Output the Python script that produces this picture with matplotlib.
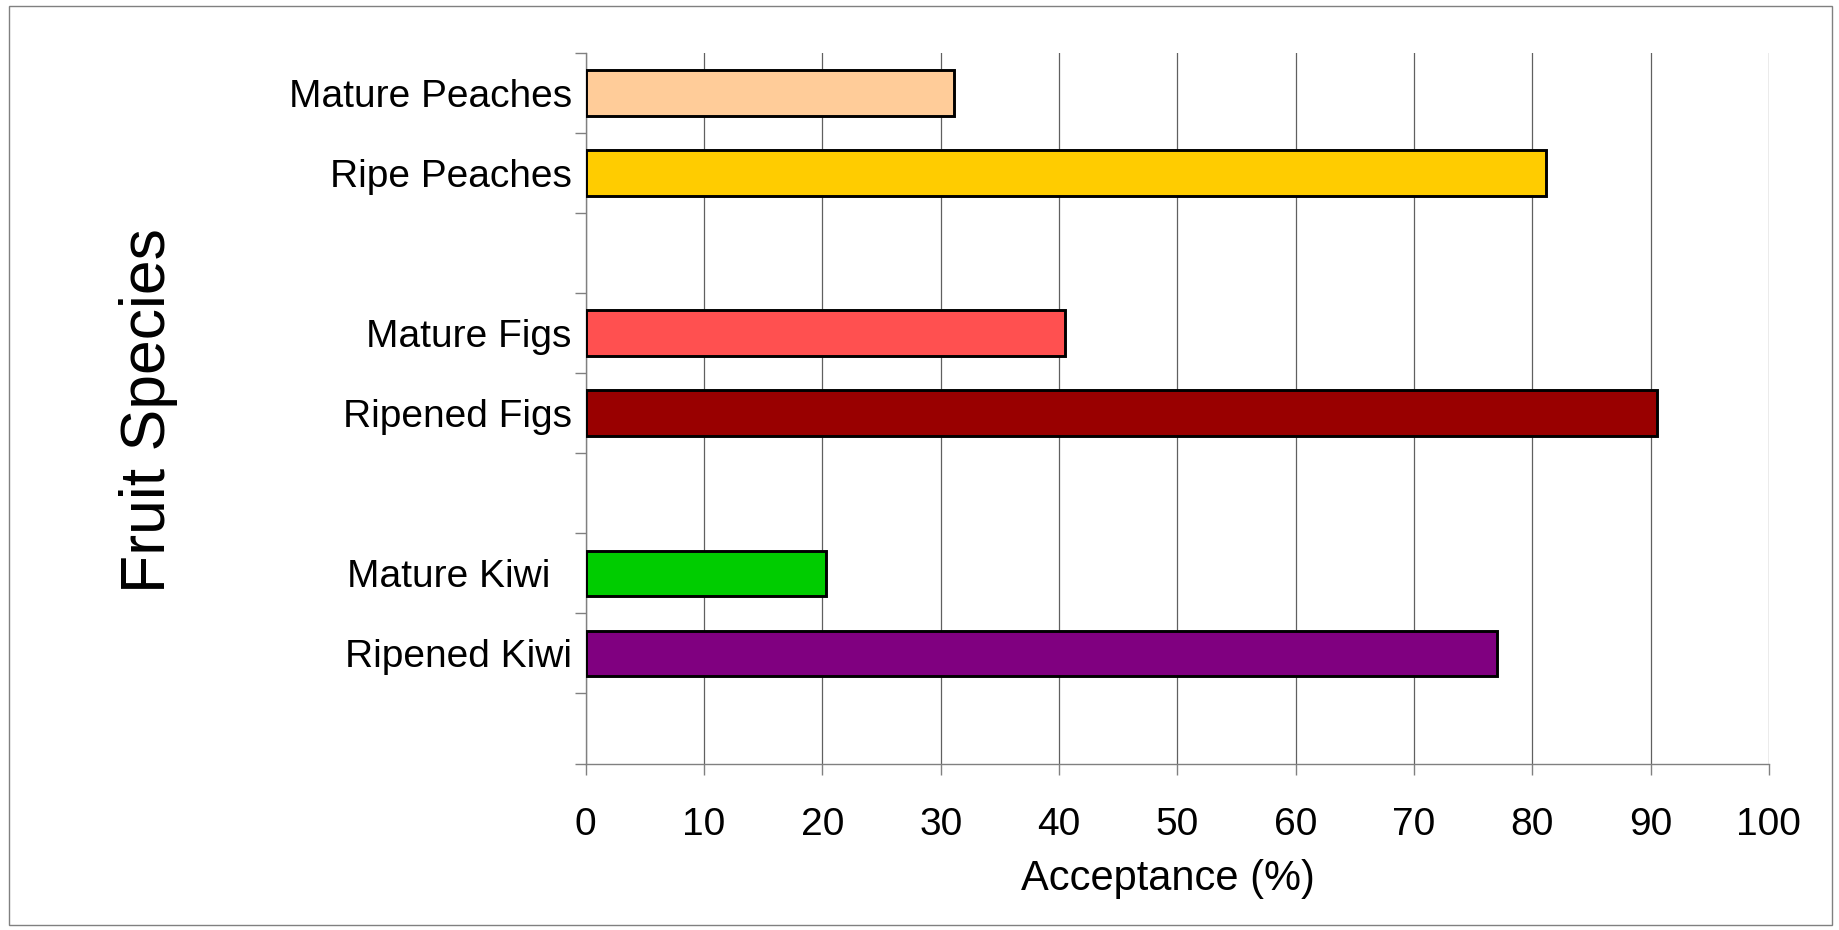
import matplotlib.pyplot as plt
from matplotlib.patches import Rectangle

plt.rcParams['font.family'] = ['Liberation Sans', 'DejaVu Sans']

# rows from top to bottom, blank rows separate the fruit groups
labels = ["Mature Peaches", "Ripe Peaches", "", "Mature Figs", "Ripened Figs", "",
          "Mature Kiwi  ", "Ripened Kiwi", ""]
acceptance = [31.1, 81.2, 0, 40.5, 90.5, 0, 20.3, 77.0, 0]
colors = ["#FFCC99", "#FFCC00", "none", "#FF5050", "#990000", "none",
          "#00CC00", "#800080", "none"]
xticks = [0, 10, 20, 30, 40, 50, 60, 70, 80, 90, 100]

fig = plt.figure(figsize=(18.39, 9.30), dpi=100)
ax = fig.add_axes([0.3185, 0.179, 0.9619 - 0.3185, 0.943 - 0.179])

pos = list(range(len(labels)))
for p, v, c in zip(pos, acceptance, colors):
    if v > 0:
        ax.barh(p, v, height=0.57, color=c, edgecolor="black", linewidth=2.1, zorder=3)

ax.set_xlim(0, 100)
ax.set_ylim(8.375, -0.5)

# category boundaries get the tick marks, centres get the names
ax.set_yticks([p - 0.5 for p in pos] + [8.375])
ax.set_yticklabels([])
ax.set_yticks(pos, minor=True)
ax.set_yticklabels(labels, minor=True, fontsize=28)
ax.tick_params(axis="y", which="minor", length=0, pad=10)
ax.tick_params(axis="y", which="major", length=8, width=1, color="#808080", direction="out")

ax.set_xticks(xticks)
ax.set_xticklabels([str(t) for t in xticks], fontsize=28)
ax.tick_params(axis="x", length=8, width=1, color="#808080", pad=23)

ax.grid(axis="x", color="#606060", linewidth=0.9, zorder=0)
ax.set_axisbelow(True)

for s in ["top", "right"]:
    ax.spines[s].set_visible(False)
for s in ["left", "bottom"]:
    ax.spines[s].set_color("#808080")
    ax.spines[s].set_linewidth(1)

ax.set_xlabel("Acceptance (%)", fontsize=30)
ax.xaxis.set_label_coords(0.492, -0.135)
fig.text(0.081, 0.559, "Fruit Species", rotation=90, fontsize=45, ha="center", va="center")

# thin frame around the whole chart area
fig.patches.append(Rectangle((9 / 1839, 1 - 925 / 930), 1823 / 1839, 919 / 930,
                             transform=fig.transFigure, fill=False,
                             edgecolor="#808080", linewidth=1))

fig.savefig("out.png", dpi=100)
